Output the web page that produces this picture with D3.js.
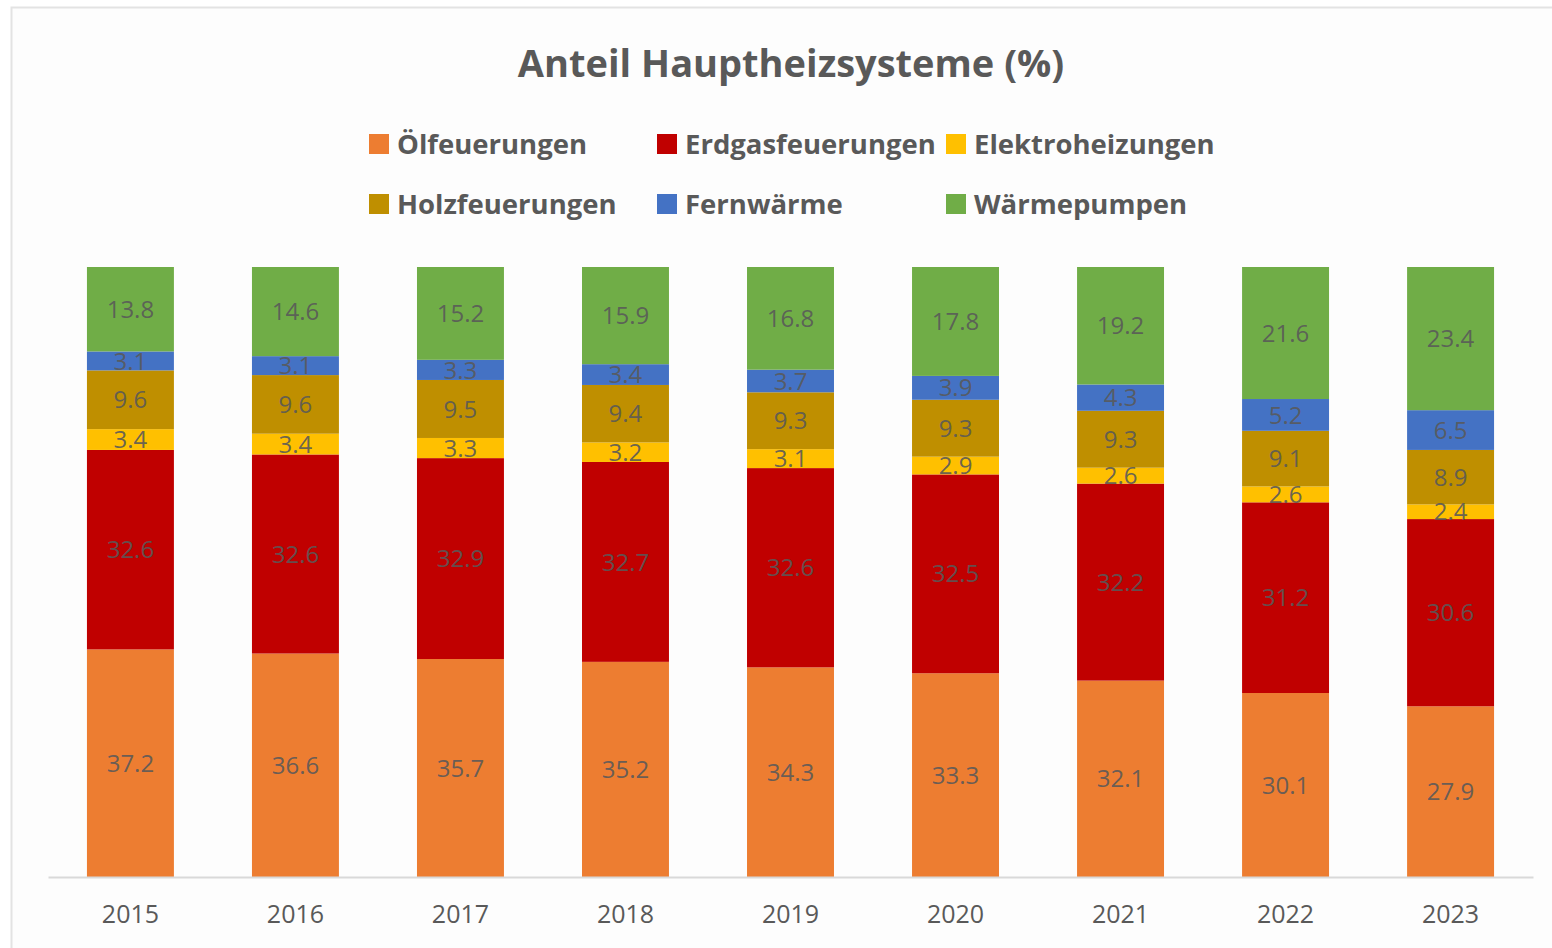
<!DOCTYPE html>
<html>
<head>
<meta charset="utf-8">
<script src="https://cdn.jsdelivr.net/npm/d3@7"></script>
<style>
  body { margin: 0; background: #fff; }
  text { font-family: "Open Sans", sans-serif; }
</style>
</head>
<body>
<div id="chart"></div>
<script>
var years = ["2015", "2016", "2017", "2018", "2019", "2020", "2021", "2022", "2023"];
var seriesNames = ["Ölfeuerungen", "Erdgasfeuerungen", "Elektroheizungen", "Holzfeuerungen", "Fernwärme", "Wärmepumpen"];
var oel = [37.2, 36.6, 35.7, 35.2, 34.3, 33.3, 32.1, 30.1, 27.9];
var erdgas = [32.6, 32.6, 32.9, 32.7, 32.6, 32.5, 32.2, 31.2, 30.6];
var elektro = [3.4, 3.4, 3.3, 3.2, 3.1, 2.9, 2.6, 2.6, 2.4];
var holz = [9.6, 9.6, 9.5, 9.4, 9.3, 9.3, 9.3, 9.1, 8.9];
var fern = [3.1, 3.1, 3.3, 3.4, 3.7, 3.9, 4.3, 5.2, 6.5];
var wp = [13.8, 14.6, 15.2, 15.9, 16.8, 17.8, 19.2, 21.6, 23.4];
var colors = ["#ED7D31", "#C00000", "#FFC000", "#BF8F00", "#4472C4", "#70AD47"];

var valuesBySeries = [oel, erdgas, elektro, holz, fern, wp];
var table = years.map(function(y, i) {
    var row = {year: y};
    seriesNames.forEach(function(n, k) { row[n] = valuesBySeries[k][i]; });
    return row;
});

var width = 1552, height = 948;
var margin = {top: 267, right: 19, bottom: 71, left: 48};

var svg = d3.select("#chart").append("svg")
    .attr("width", width)
    .attr("height", height);

// chart frame
svg.append("rect")
    .attr("x", 11.5).attr("y", 7.5)
    .attr("width", 1560).attr("height", 960)
    .attr("fill", "#fdfdfd")
    .attr("stroke", "#e3e3e3")
    .attr("stroke-width", 2);

var x = d3.scaleBand()
    .domain(years)
    .range([margin.left, width - margin.right])
    .paddingInner(0.473)
    .paddingOuter(0.236);

var y = d3.scaleLinear()
    .domain([0, 1])
    .range([height - margin.bottom, margin.top]);

var stack = d3.stack().keys(seriesNames).offset(d3.stackOffsetExpand);
var stacked = stack(table);

var groups = svg.selectAll(".serie")
    .data(stacked)
    .enter().append("g")
    .attr("class", "serie")
    .attr("fill", function(d, i) { return colors[i]; });

groups.selectAll("rect")
    .data(function(d) { return d; })
    .enter().append("rect")
    .attr("x", function(d) { return x(d.data.year); })
    .attr("y", function(d) { return y(d[1]); })
    .attr("width", x.bandwidth())
    .attr("height", function(d) { return y(d[0]) - y(d[1]); });

// value labels
stacked.forEach(function(s) {
    svg.append("g").selectAll("text")
        .data(s)
        .enter().append("text")
        .attr("x", function(d) { return x(d.data.year) + x.bandwidth() / 2; })
        .attr("y", function(d) { return (y(d[0]) + y(d[1])) / 2; })
        .attr("dy", "0.36em")
        .attr("text-anchor", "middle")
        .style("font-size", "24px")
        .style("fill", "#595959")
        .style("fill-opacity", 0.9)
        .text(function(d) { return d.data[s.key].toFixed(1); });
});

// x axis
var xAxis = svg.append("g")
    .attr("transform", "translate(0," + (height - margin.bottom) + ")")
    .call(d3.axisBottom(x).tickSize(0).tickPadding(28));
xAxis.select(".domain").attr("stroke", "#d9d9d9").attr("stroke-width", 2);
xAxis.selectAll("text")
    .style("font-family", "Open Sans, sans-serif")
    .style("font-size", "25px")
    .style("fill", "#595959");

// title
svg.append("text")
    .attr("x", 791)
    .attr("y", 77)
    .attr("text-anchor", "middle")
    .style("font-size", "38px")
    .style("font-weight", 700)
    .style("fill", "#595959")
    .text("Anteil Hauptheizsysteme (%)");

// legend
var legendX = [369, 657, 946];
var legendY = [144, 204];
var legend = svg.selectAll(".legend")
    .data(seriesNames)
    .enter().append("g")
    .attr("class", "legend")
    .attr("transform", function(d, i) {
        return "translate(" + legendX[i % 3] + "," + legendY[Math.floor(i / 3)] + ")";
    });
legend.append("rect")
    .attr("x", 0).attr("y", -10)
    .attr("width", 20).attr("height", 20)
    .attr("fill", function(d, i) { return colors[i]; });
legend.append("text")
    .attr("x", 28)
    .attr("dy", "0.36em")
    .style("font-size", "27.5px")
    .style("font-weight", 700)
    .style("fill", "#595959")
    .text(function(d) { return d; });
</script>
</body>
</html>
